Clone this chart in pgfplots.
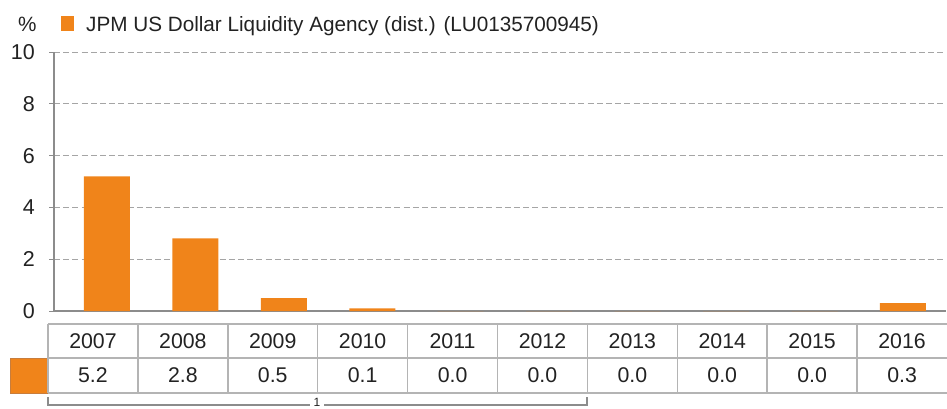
\documentclass[border=0pt]{standalone}
\usepackage{fontspec}
\setmainfont{Liberation Sans}
\usepackage{pgfplots}
\pgfplotsset{compat=1.18}
\definecolor{jpmorange}{RGB}{240,132,26}
\definecolor{jpmorangedark}{RGB}{200,125,60}
\definecolor{gridgray}{RGB}{165,165,165}
\definecolor{axisgray}{RGB}{140,140,140}
\definecolor{tablegray}{RGB}{180,180,180}
\definecolor{txt}{RGB}{34,34,34}
\begin{document}
\begin{tikzpicture}[x=1pt,y=1pt]
\useasboundingbox (0,0) rectangle (947,408);
\begin{axis}[
  at={(54pt,97pt)}, anchor=south west,
  scale only axis, width=892pt, height=259pt,
  xmin=-0.599, xmax=9.487, ymin=0, ymax=10,
  axis lines=left,
  axis line style={draw=axisgray, line width=1.2pt, -},
  xtick=\empty,
  ytick={0,2,4,6,8,10},
  tick align=outside, major tick length=5pt,
  tick style={draw=axisgray, line width=1pt},
  ymajorgrids,
  grid style={draw=gridgray, line width=1pt, dash pattern=on 6pt off 3.2pt},
  /pgf/number format/assume math mode=true,
  yticklabel style={font=\fontsize{21.5}{21.5}\selectfont, text=txt, anchor=east, inner sep=0pt, xshift=-14pt},
  clip=false,
]
\addplot[ybar, bar width=46pt, fill=jpmorange, draw=none] coordinates {
  (0,5.2) (1,2.8) (2,0.5) (3,0.1) (4,0.0) (5,0.0) (6,0.0) (7,0.0) (8,0.0) (9,0.3)
};
\end{axis}
% legend
\node[anchor=base west, inner sep=0pt, font=\fontsize{20.7}{20.7}\selectfont, text=txt] at (18,376) {\%};
\fill[jpmorange] (61,392) rectangle (74,377);
\node[anchor=base west, inner sep=0pt, font=\fontsize{20.7}{20.7}\selectfont, text=txt] at (86,376.3) {JPM US Dollar Liquidity Agency (dist.) (LU0135700945)};
% data table
\fill[jpmorange, draw=jpmorangedark, line width=1pt] (10,50) rectangle (48,15);
\draw[tablegray, line width=1.5pt] (48,84) -- (947,84);
\draw[tablegray, line width=1.5pt] (48,50) -- (947,50);
\draw[tablegray, line width=1.5pt] (48,15) -- (947,15);
\foreach \k in {0,...,9} {
  \draw[tablegray, line width=1.5pt] ({48+89.9*\k},84) -- ({48+89.9*\k},15);
}
\foreach \yr/\v [count=\i from 0] in {2007/5.2,2008/2.8,2009/0.5,2010/0.1,2011/0.0,2012/0.0,2013/0.0,2014/0.0,2015/0.0,2016/0.3} {
  \node[font=\fontsize{21.3}{21.3}\selectfont, text=txt, inner sep=0pt] at ({48+89.9*\i+44.95},67) {\yr};
  \node[font=\fontsize{21.3}{21.3}\selectfont, text=txt, inner sep=0pt] at ({48+89.9*\i+44.95},32.5) {\v};
}
% bracket
\draw[axisgray, line width=1.2pt] (48,11) -- (48,3) -- (587,3) -- (587,11);
\fill[white] (310,0) rectangle (324,8);
\node[anchor=north, inner sep=0pt, font=\fontsize{12}{12}\selectfont, text=txt] at (317,10) {1};
\end{tikzpicture}
\end{document}
